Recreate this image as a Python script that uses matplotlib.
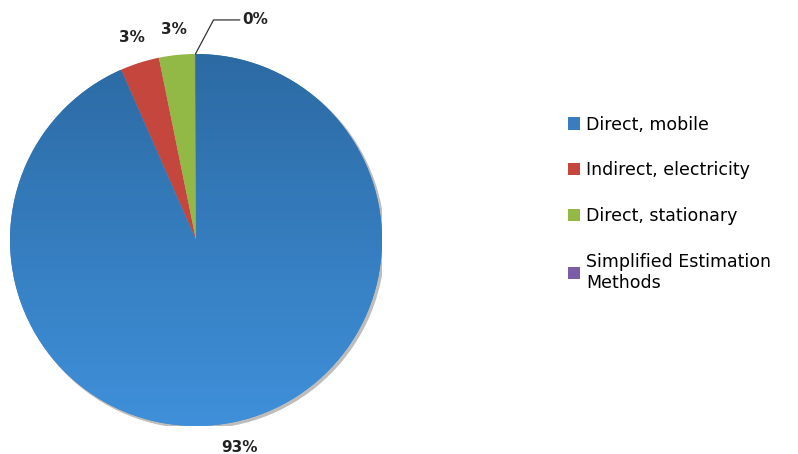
import numpy as np
import matplotlib.pyplot as plt
from matplotlib.patches import Circle
from matplotlib.colors import LinearSegmentedColormap

# emission sources and shares (%)
sources = ["Direct, mobile", "Indirect, electricity", "Direct, stationary",
           "Simplified Estimation\nMethods"]
shares = [93.4, 3.4, 3.1, 0.1]
colors = ["#3A7DBE", "#C4463C", "#92B846", "#7B5CA6"]

fig = plt.figure(figsize=(7.98, 4.54), dpi=100)
ax = fig.add_axes([0.01253, 0.0617, 0.4662, 0.8194])

# soft shadow behind pie
ax.add_patch(Circle((0.012, -0.012), 1.0, color="#BDBDBD", zorder=0))

wedges, texts, autotexts = ax.pie(
    shares, colors=colors, startangle=90, counterclock=False, radius=1,
    autopct="%.0f%%", pctdistance=1.14,
    textprops=dict(fontsize=11, fontweight="bold", color="#222222"),
    wedgeprops=dict(linewidth=0))

# vertical gradient for the big slice
grad = np.linspace(0, 1, 256).reshape(-1, 1)
cm = LinearSegmentedColormap.from_list("b", ["#3F90DA", "#2C6AA3"])
im = ax.imshow(grad, extent=[-1, 1, -1, 1], origin="lower", cmap=cm,
               aspect="auto", zorder=wedges[0].get_zorder() + 0.1)
im.set_clip_path(wedges[0])

# last (0%) label uses leader line
autotexts[3].set_visible(False)
w = wedges[3]
ang = np.deg2rad((w.theta1 + w.theta2) / 2)
ax.annotate(autotexts[3].get_text(), xy=(np.cos(ang), np.sin(ang)),
            xytext=(0.25, 1.183), fontsize=11, fontweight="bold",
            color="#222222", va="center", ha="left",
            arrowprops=dict(arrowstyle="-", color="#333333", lw=0.9,
                            connectionstyle="angle,angleA=0,angleB=62,rad=0",
                            shrinkA=0, shrinkB=0))

ax.set_xlim(-1, 1)
ax.set_ylim(-1, 1)
ax.set_aspect("auto")
ax.axis("off")

fig.legend(wedges, sources, loc="upper left", bbox_to_anchor=(0.692, 0.78),
           frameon=False, fontsize=12.5, handlelength=0.7, handleheight=0.7,
           handletextpad=0.35, labelspacing=1.6)

fig.savefig("out.png", dpi=100)
plt.close(fig)
